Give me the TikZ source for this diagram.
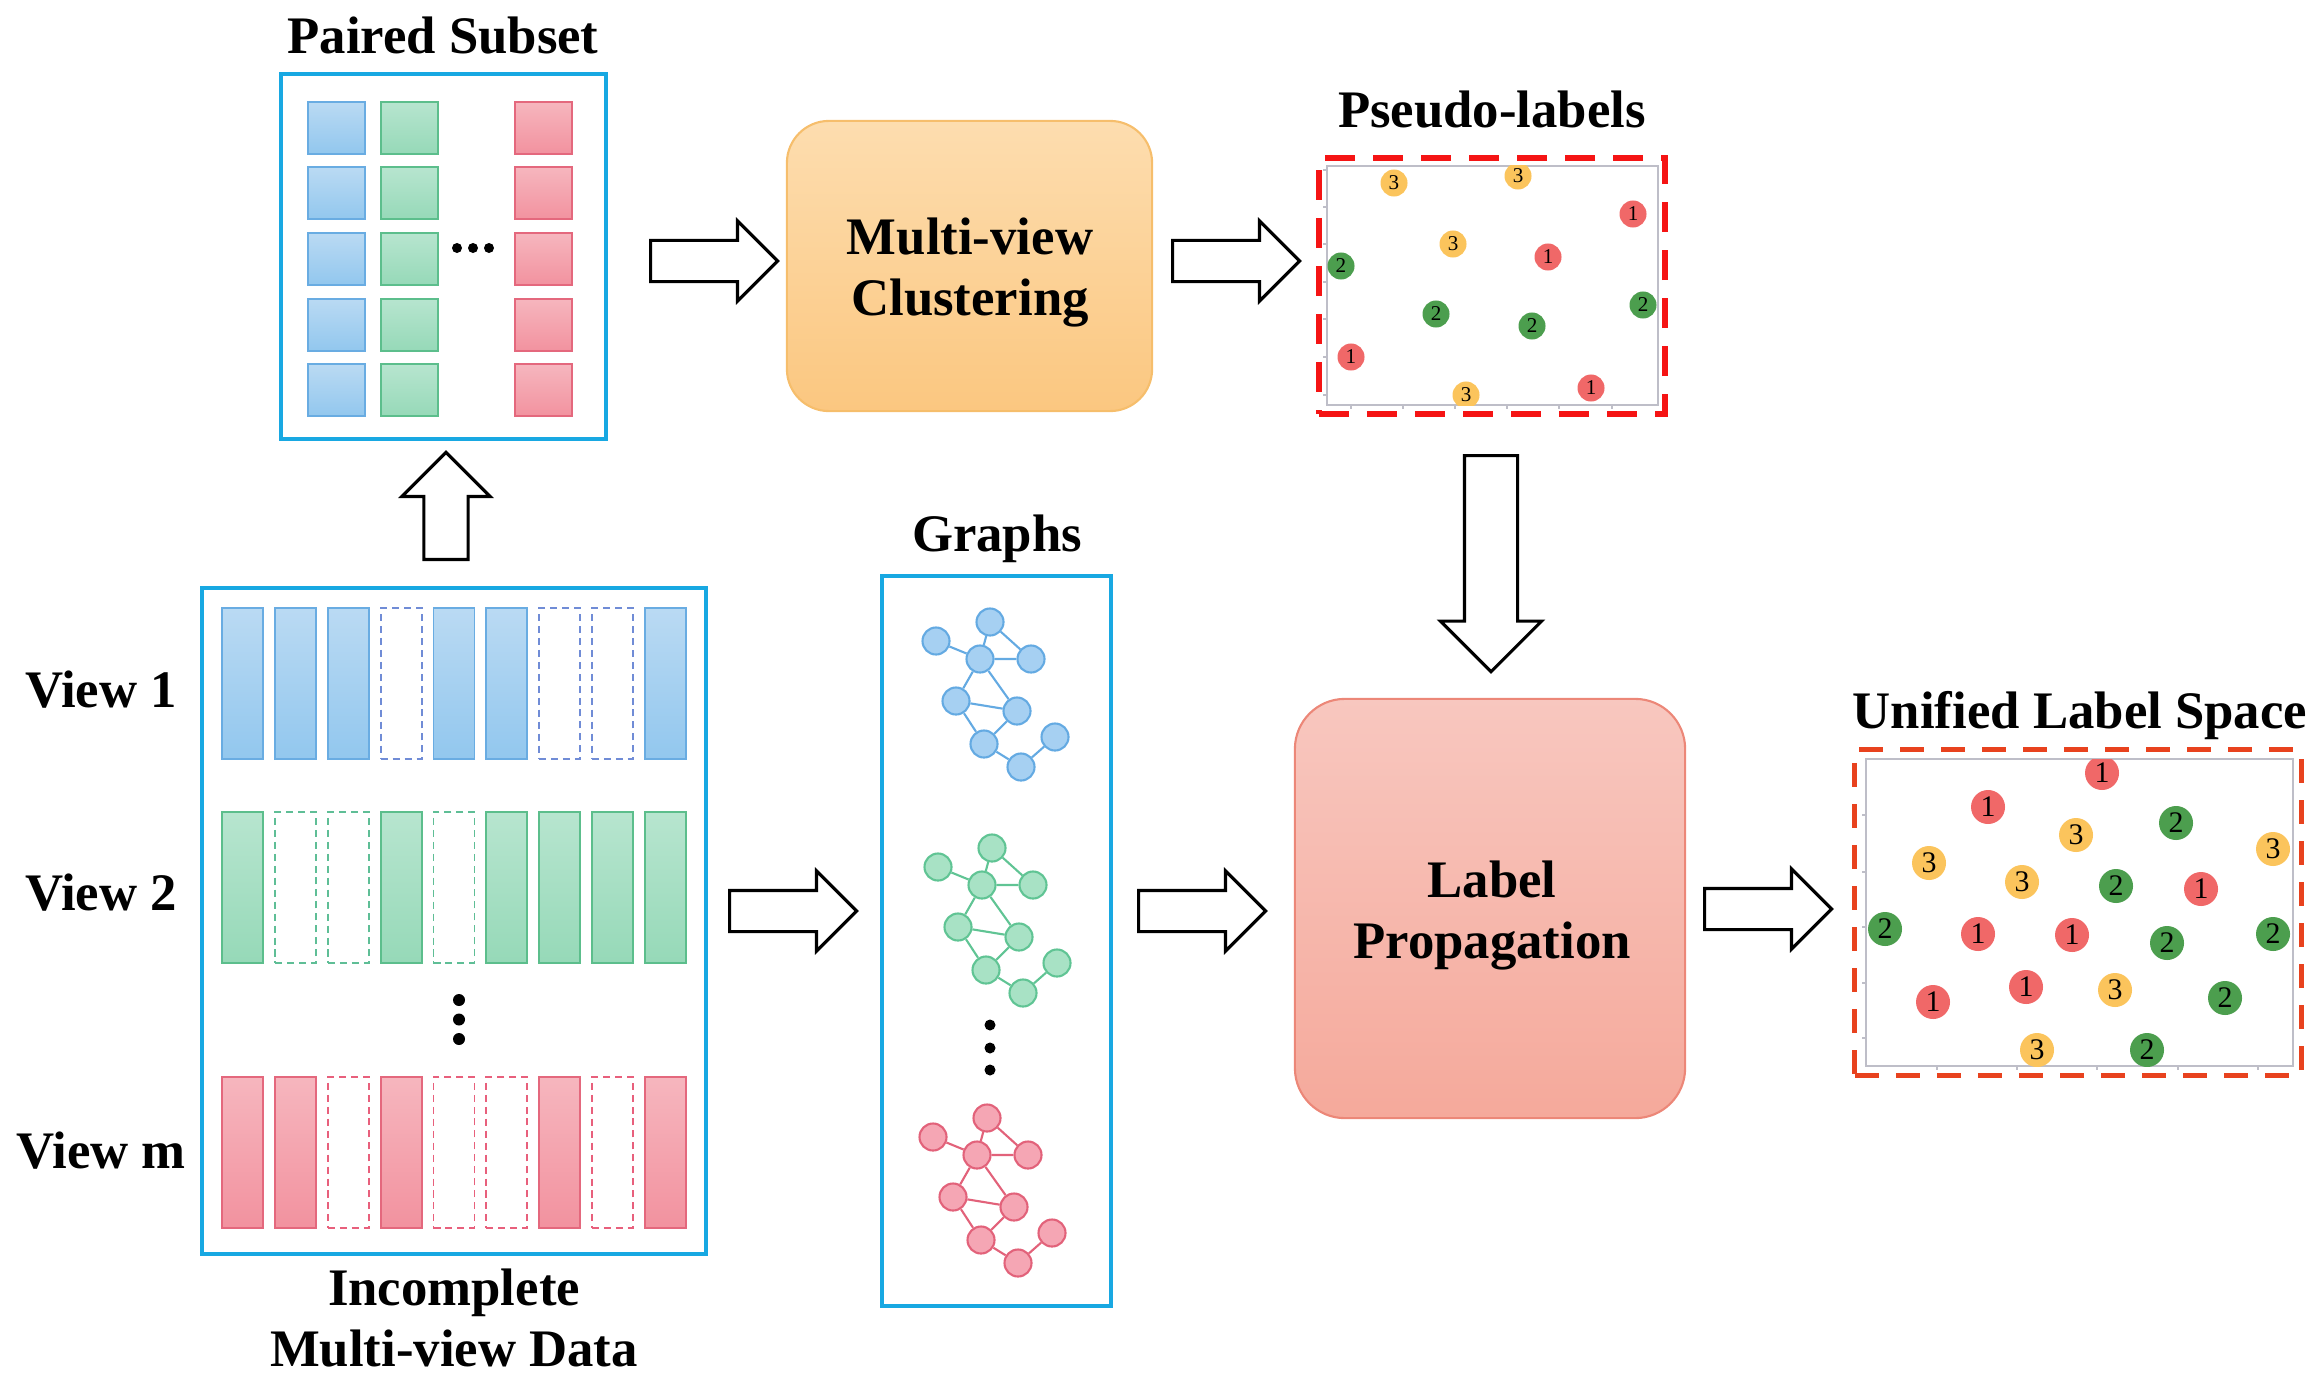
\documentclass[tikz,border=0pt]{standalone}
\usepackage{fontspec}
\setmainfont{Liberation Serif}
\usepackage{tikz}
\usetikzlibrary{matrix,shapes.arrows,positioning}

\definecolor{boxblue}{RGB}{24,168,226}
\definecolor{barBt}{RGB}{186,218,243}
\definecolor{barBb}{RGB}{146,199,238}
\definecolor{barBl}{RGB}{105,172,226}
\definecolor{barBd}{RGB}{112,140,214}
\definecolor{barGt}{RGB}{183,229,207}
\definecolor{barGb}{RGB}{150,217,184}
\definecolor{barGl}{RGB}{92,190,140}
\definecolor{barGd}{RGB}{95,190,150}
\definecolor{barRt}{RGB}{246,182,190}
\definecolor{barRb}{RGB}{242,146,159}
\definecolor{barRl}{RGB}{228,104,125}
\definecolor{barRd}{RGB}{232,96,124}
\definecolor{clusT}{RGB}{253,221,175}
\definecolor{clusB}{RGB}{251,199,128}
\definecolor{clusL}{RGB}{246,190,108}
\definecolor{propT}{RGB}{248,199,191}
\definecolor{propB}{RGB}{245,169,155}
\definecolor{propL}{RGB}{236,135,120}
\definecolor{pseudored}{RGB}{245,20,20}
\definecolor{unifred}{RGB}{232,66,30}
\definecolor{dot1}{RGB}{240,104,104}
\definecolor{dot2}{RGB}{76,158,78}
\definecolor{dot3}{RGB}{251,196,92}
\definecolor{axisgray}{RGB}{190,190,200}
\definecolor{gBl}{RGB}{100,170,226}
\definecolor{gBf}{RGB}{166,208,242}
\definecolor{gGl}{RGB}{96,196,148}
\definecolor{gGf}{RGB}{168,226,197}
\definecolor{gRl}{RGB}{226,98,122}
\definecolor{gRf}{RGB}{245,166,180}

\begin{document}
\begin{tikzpicture}[x=0.01cm,y=-0.01cm]
    % `bluebox' frames the data, the pairs and the graphs.
    % `stage' is used for the two rounded process boxes.
    % `flow' is the hollow arrow from one stage to the next.
    % `capt' is used for every bold caption.
    \tikzstyle{bluebox} = [draw=boxblue,line width=1pt,inner sep=0pt]
    \tikzstyle{stage} = [inner sep=0pt,line width=0.6pt]
    \tikzstyle{capt} = [anchor=base,inner sep=0pt,font=\bfseries\fontsize{15}{17.3}\selectfont]
    \tikzstyle{flow} = [single arrow,draw,fill=white,line width=0.9pt,inner xsep=0pt,inner ysep=0.19cm,anchor=tail,
                        minimum height=1.27cm,minimum width=0.77cm,single arrow head extend=0.195cm]
    % `bar' is one view of one sample, `sq' one paired sample.
    \tikzstyle{bar} = [inner sep=0pt,outer sep=0pt,line width=0.5pt,minimum width=0.41cm,minimum height=1.51cm]
    \tikzstyle{fullB} = [bar,draw=barBl,top color=barBt,bottom color=barBb]
    \tikzstyle{fullG} = [bar,draw=barGl,top color=barGt,bottom color=barGb]
    \tikzstyle{fullR} = [bar,draw=barRl,top color=barRt,bottom color=barRb]
    \tikzstyle{missB} = [bar,draw=barBd,fill=white,dash pattern=on 2pt off 1.4pt]
    \tikzstyle{missG} = [bar,draw=barGd,fill=white,dash pattern=on 2pt off 1.4pt]
    \tikzstyle{missR} = [bar,draw=barRd,fill=white,dash pattern=on 2pt off 1.4pt]
    \tikzstyle{sq} = [inner sep=0pt,outer sep=0pt,line width=0.6pt,minimum width=0.57cm,minimum height=0.52cm]
    \tikzstyle{sqB} = [sq,draw=barBl,top color=barBt,bottom color=barBb]
    \tikzstyle{sqG} = [sq,draw=barGl,top color=barGt,bottom color=barGb]
    \tikzstyle{sqR} = [sq,draw=barRl,top color=barRt,bottom color=barRb]
    % `gnode' is a graph vertex, `lab' a labelled point of a scatter plot.
    \tikzstyle{gnode} = [circle,inner sep=0pt,minimum size=0.27cm,line width=0.6pt]
    \tikzstyle{lab} = [circle,inner sep=0pt,minimum size=0.27cm,font=\fontsize{6}{6}\selectfont]
    \tikzstyle{blab} = [lab,minimum size=0.34cm,font=\fontsize{8.5}{8.5}\selectfont]
    %
    \useasboundingbox (0,0) rectangle (2316,1379);

    % Frames and process boxes.
    \node[bluebox,minimum width=3.25cm,minimum height=3.65cm] (paired) at (443.5,256.5) {};
    \node[bluebox,minimum width=5.04cm,minimum height=6.66cm] (data) at (454,921) {};
    \node[bluebox,minimum width=2.29cm,minimum height=7.30cm] (graphs) at (996.5,941) {};
    \node[stage,draw=clusL,top color=clusT,bottom color=clusB,rounded corners=0.42cm,
          minimum width=3.65cm,minimum height=2.90cm] (mvc) at (969.5,266) {};
    \node[stage,draw=propL,top color=propT,bottom color=propB,rounded corners=0.5cm,
          minimum width=3.90cm,minimum height=4.19cm] (lp) at (1490,908.5) {};
    \node[draw=pseudored,line width=1.7pt,dash pattern=on 0.3cm off 0.18cm,inner sep=0pt,
          minimum width=3.46cm,minimum height=2.56cm] (pseudo) at (1492,286) {};
    \node[draw=unifred,line width=1.4pt,dash pattern=on 0.24cm off 0.17cm,inner sep=0pt,
          minimum width=4.46cm,minimum height=3.25cm] (unified) at (2078,912.5) {};

    % Captions.
    \node[capt] (tpaired) at (443,54) {Paired Subset};
    \node[capt] (tpseudo) at (1492,128) {Pseudo-labels};
    \node[capt] (tgraphs) at (997,551) {Graphs};
    \node[capt] (tunified) at (2080,728) {Unified Label Space};
    \node[capt] (view1) at (101,707) {View 1};
    \node[capt] (view2) at (101,910) {View 2};
    \node[capt] (viewm) at (101,1168) {View m};
    \node[capt,anchor=north,align=center] (tdata) at (454,1268) {Incomplete\\Multi-view Data};
    \node[capt,anchor=north,align=center] (tmvc) at (970,217) {Multi-view\\Clustering};
    \node[capt,anchor=north,align=center] (tlp) at (1492,860) {Label\\Propagation};

    % Paired samples.
    \matrix[matrix of nodes,row sep=0.115cm,column sep=0.14cm] (pairs) at (440,259) {
      |[sqB]| & |[sqG]| &[0.61cm] |[sqR]| \\
      |[sqB]| & |[sqG]| & |[sqR]| \\
      |[sqB]| & |[sqG]| & |[sqR]| \\
      |[sqB]| & |[sqG]| & |[sqR]| \\
      |[sqB]| & |[sqG]| & |[sqR]| \\
    };
    \fill (457,248) circle (0.05cm) (473,248) circle (0.05cm) (489,248) circle (0.05cm);

    % Views with missing samples.
    \matrix[matrix of nodes,row sep=0.51cm,column sep=0.1cm] (bars) at (454,918) {
      |[fullB]| & |[fullB]| & |[fullB]| & |[missB]| & |[fullB]| & |[fullB]| & |[missB]| & |[missB]| & |[fullB]| \\
      |[fullG]| & |[missG]| & |[missG]| & |[fullG]| & |[missG]| & |[fullG]| & |[fullG]| & |[fullG]| & |[fullG]| \\[0.61cm]
      |[fullR]| & |[fullR]| & |[missR]| & |[fullR]| & |[missR]| & |[missR]| & |[fullR]| & |[missR]| & |[fullR]| \\
    };
    \fill (459,1000) circle (0.06cm) (459,1019.5) circle (0.06cm) (459,1039) circle (0.06cm);

    % One graph per view.
    \foreach \g/\e/\f/\dx/\dy in {gb/gBl/gBf/0/0, gg/gGl/gGf/2/226, gr/gRl/gRf/-3/496} {
      \begin{scope}[shift={(\dx,\dy)}]
        \node[gnode,draw=\e,fill=\f] (\g1) at (990,622) {};
        \node[gnode,draw=\e,fill=\f] (\g2) at (936,641) {};
        \node[gnode,draw=\e,fill=\f] (\g3) at (980,659) {};
        \node[gnode,draw=\e,fill=\f] (\g4) at (1031,659) {};
        \node[gnode,draw=\e,fill=\f] (\g5) at (956,701) {};
        \node[gnode,draw=\e,fill=\f] (\g6) at (1017,711) {};
        \node[gnode,draw=\e,fill=\f] (\g7) at (984,744) {};
        \node[gnode,draw=\e,fill=\f] (\g8) at (1055,737) {};
        \node[gnode,draw=\e,fill=\f] (\g9) at (1021,767) {};
        \draw[\e,line width=0.6pt] (\g1) -- (\g3) (\g1) -- (\g4) (\g2) -- (\g3) (\g3) -- (\g4)
          (\g3) -- (\g5) (\g3) -- (\g6) (\g5) -- (\g6) (\g5) -- (\g7) (\g6) -- (\g7)
          (\g7) -- (\g9) (\g9) -- (\g8);
      \end{scope}
    }
    \fill (990,1025) circle (0.055cm) (990,1048) circle (0.055cm) (990,1070) circle (0.055cm);

    % Scatter of pseudo-labels.
    \draw[axisgray,line width=0.5pt] (1327,166) rectangle (1658,405);
    \foreach \t in {170,207,244,282,319,357,395} \draw[axisgray,line width=0.5pt] (1323,\t) -- (1327,\t);
    \foreach \t in {1351,1403,1455,1507,1559,1612} \draw[axisgray,line width=0.5pt] (\t,405) -- (\t,409);
    \begin{scope}
      \clip (1327,166) rectangle (1658,405);
      \foreach \x/\y/\k [count=\i] in {1394/183/3, 1518/176/3, 1633/214/1, 1453/244/3, 1548/257/1,
          1341/266/2, 1643/305/2, 1436/314/2, 1532/326/2, 1351/357/1, 1466/395/3, 1591/388/1}
        \node[lab,fill=dot\k] (p\i) at (\x,\y) {\k};
    \end{scope}

    % Scatter of the unified labels.
    \draw[axisgray,line width=0.5pt] (1866,759) rectangle (2293,1066);
    \foreach \t in {815,872,927,983,1038} \draw[axisgray,line width=0.5pt] (1862,\t) -- (1866,\t);
    \foreach \t in {1937,2017,2097,2178,2258} \draw[axisgray,line width=0.5pt] (\t,1066) -- (\t,1070);
    \begin{scope}
      \clip (1866,759) rectangle (2293,1066);
      \foreach \x/\y/\k [count=\i] in {2102/773/1, 1988/807/1, 2176/823/2, 2076/835/3, 2273/849/3,
          1929/863/3, 2022/882/3, 2116/886/2, 2201/889/1, 1885/929/2, 1978/934/1, 2072/935/1,
          2167/943/2, 2273/934/2, 2026/987/1, 2115/990/3, 2225/998/2, 1933/1002/1, 2037/1050/3, 2147/1050/2}
        \node[blab,fill=dot\k] (u\i) at (\x,\y) {\k};
    \end{scope}

    % Hollow arrows between the stages, placed by their tails.
    \node[flow] (a1) at (649,261) {};
    \node[flow] (a2) at (1171,261) {};
    \node[flow] (a3) at (728,911) {};
    \node[flow] (a4) at (1137,911) {};
    \node[flow] (a5) at (1703,909) {};
    \node[flow,rotate=90,minimum height=1.07cm,minimum width=0.85cm,inner ysep=0.205cm,
          single arrow head extend=0.22cm] (aup) at (446,561) {};
    \node[flow,rotate=-90,minimum height=2.16cm,minimum width=0.98cm,inner ysep=0.25cm,
          single arrow head extend=0.24cm] (adown) at (1491,454) {};
\end{tikzpicture}
\end{document}
